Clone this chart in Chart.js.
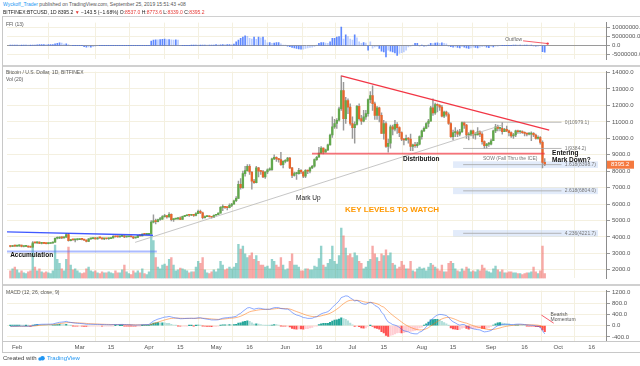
<!DOCTYPE html>
<html><head><meta charset="utf-8">
<script src="https://cdn.jsdelivr.net/npm/chart.js@4.4.1/dist/chart.umd.min.js"></script>
<style>
html,body{margin:0;padding:0;background:#fff;}
body{position:relative;width:640px;height:366px;overflow:hidden;font-family:"Liberation Sans",Arial,sans-serif;}
canvas{position:absolute;left:0;}
.t{position:absolute;white-space:nowrap;z-index:5;}
.ln{position:absolute;z-index:4;}
.r{color:#e53935}
</style></head><body>
<div class="t" style="left:3px;top:1px;font-size:5px;line-height:6px;color:#555"><span style="color:#2196f3">Wyckoff_Trader</span> published on TradingView.com, September 25, 2019 15:51:43 +08</div>
<div class="t" style="left:3px;top:9px;font-size:5px;line-height:6px;color:#222">BITFINEX:BTCUSD, 1D 8395.2 <span class="r">▼</span> −143.5 (−1.68%) O:<span class="r">8537.0</span> H:<span class="r">8773.6</span> L:<span class="r">8339.0</span> C:<span class="r">8395.2</span></div>
<div class="t" style="left:6px;top:21px;font-size:5px;line-height:6px;color:#555">FFI (13)</div>
<div class="t" style="left:6px;top:69px;font-size:5px;line-height:6px;color:#555">Bitcoin / U.S. Dollar, 1D, BITFINEX</div>
<div class="t" style="left:6px;top:76px;font-size:5px;line-height:6px;color:#555">Vol (20)</div>
<div class="t" style="left:6px;top:289px;font-size:5px;line-height:6px;color:#555">MACD (12, 26, close, 9)</div>
<div class="t" style="left:3px;top:355px;font-size:6px;line-height:7px;color:#444">Created with <svg width="7" height="5" viewBox="0 0 14 10" style="vertical-align:-0.5px"><circle cx="4" cy="6" r="3.5" fill="#2196f3"/><circle cx="9" cy="4.5" r="4.5" fill="#2196f3"/></svg> <span style="color:#2196f3">TradingView</span></div>
<div class="ln" style="left:2px;top:16px;width:638px;height:1px;background:#d0d0d0"></div>
<div class="ln" style="left:2px;top:65px;width:638px;height:1.5px;background:#d0d0d0"></div>
<div class="ln" style="left:2px;top:284px;width:638px;height:1.5px;background:#d0d0d0"></div>
<div class="ln" style="left:2px;top:341px;width:638px;height:1px;background:#c8c8c8"></div>
<div class="ln" style="left:2px;top:352px;width:638px;height:1px;background:#c8c8c8"></div>
<div class="ln" style="left:2px;top:16px;width:1px;height:337px;background:#c8c8c8"></div>
<canvas id="ffi" width="640" height="48" style="top:17px"></canvas>
<canvas id="main" width="640" height="218" style="top:66px"></canvas>
<canvas id="macd" width="640" height="68" style="top:285px"></canvas>
<script>
// ---- data: daily BITFINEX BTCUSD, 2019-01-29 .. 2019-09-25 ----
const firstDay = -3; // day index relative to Feb 1, 2019
const opens=[3450,3420,3480,
3445,3460,3500,3420,3425,3440,3390,3380,3650,3640,3690,3610,3620,3610,3590,3600,3630,3680,3920,3930,3980,3940,3990,4150,3770,3840,3820,3830,
3840,3860,3850,3810,3730,3880,3900,3910,3880,3950,3940,3880,3900,3890,3900,3940,4040,4010,4000,4040,4060,4000,4010,4020,4010,3940,3970,4090,4070,4170,4160,
4160,4180,4900,4980,4930,5060,5080,5240,5300,5220,5380,5050,5090,5100,5170,5070,5250,5290,5330,5320,5350,5310,5420,5560,5470,5180,5240,5250,5230,5200,
5320,5360,5450,5800,5850,5800,5780,5920,6000,6200,6350,7200,7000,7850,8030,8300,7950,7400,7300,8200,8000,7980,7650,7950,8080,8100,8750,8850,8750,8700,8400,
8600,8620,8800,8200,7750,7850,7850,8050,7950,7700,8050,8000,8200,8300,8700,8850,9100,9400,9150,9300,9600,10200,10700,10900,11100,11800,12900,11200,12300,11900,
10900,10650,10850,11950,11200,11050,11300,11500,12350,12600,12100,11400,11850,11400,10300,10900,9500,9700,10700,10550,10850,10650,10350,9950,9900,10000,9950,9500,9600,9550,9650,
10100,10450,10600,10900,11050,11850,11550,12050,12000,11900,11350,11600,11450,10900,10100,10350,10400,10250,10400,10950,10800,10200,10200,10450,10200,10200,10400,10250,9800,9550,9650,
9650,9850,10450,10700,10600,10600,10400,10550,10450,10350,10150,10200,10450,10400,10400,10350,10300,10250,10250,10300,10200,10000,10050,9750,8537];
const highs=[3470,3490,3500,
3480,3520,3510,3440,3460,3455,3400,3720,3670,3700,3700,3640,3650,3620,3640,3660,3700,3950,4000,4000,4010,4000,4200,4220,3860,3850,3850,3900,
3880,3870,3860,3830,3900,3920,3940,3960,3960,3960,3950,3920,3920,3940,3960,4080,4050,4060,4050,4080,4080,4030,4040,4030,4020,3980,4100,4100,4190,4200,4180,
4200,5000,5350,5080,5080,5200,5300,5380,5300,5480,5400,5100,5130,5190,5220,5270,5320,5350,5380,5380,5360,5480,5640,5640,5520,5280,5280,5280,5250,5350,
5380,5460,5850,5950,5860,5810,6020,6050,6250,6450,7400,7550,8000,8300,8400,8400,7980,7500,8300,8230,8050,8050,7980,8150,8200,8800,9000,8880,8780,9150,8650,
8700,8850,8850,8230,7950,7930,8180,8100,7980,8100,8070,8250,8350,8750,8900,9450,9500,9420,9350,9650,10250,11300,11150,11200,11900,13800,13400,12500,12400,12100,
11300,11000,12000,12100,11400,11700,11700,12400,12850,13200,12200,11950,11900,11550,11100,11000,9950,10800,10800,11100,10950,10700,10400,10000,10200,10050,10250,9650,9750,9750,10150,
10500,10700,10950,11150,11950,12400,12150,12100,12050,12000,11650,11650,11550,10950,10500,10650,10500,10550,11000,10980,10850,10350,10500,10500,10350,10650,10450,10350,9850,9700,9750,
9950,10500,10850,10800,10650,10950,10600,10750,10500,10400,10300,10500,10500,10450,10450,10400,10320,10350,10400,10350,10250,10150,10100,9850,8773.6];
const lows=[3400,3410,3430,
3420,3430,3400,3400,3410,3370,3370,3370,3620,3610,3590,3570,3590,3570,3580,3600,3610,3670,3880,3900,3890,3930,3970,3740,3760,3800,3700,3800,
3830,3820,3790,3700,3720,3850,3880,3860,3870,3910,3860,3840,3870,3850,3890,3930,3990,3980,3990,4010,3960,3990,4000,3990,3900,3920,3960,4050,4060,4140,4140,
4140,4170,4850,4800,4920,5000,5070,5200,5150,5200,4980,4950,5060,5070,5050,5060,5230,5280,5250,5300,5250,5280,5410,5420,5100,5150,5230,5200,5150,5180,
5310,5350,5440,5600,5730,5650,5770,5840,5990,6150,6340,6900,6950,7700,8000,7800,6900,7250,7280,7650,7800,7600,7560,7850,8050,8050,8700,8600,8550,8350,8200,
8500,8600,8150,7600,7700,7500,7820,7850,7600,7600,7850,7900,8150,8250,8650,8850,9100,9050,9150,9250,9580,10050,10600,10600,11050,11700,10500,10900,11500,10800,
10000,9700,10800,11100,10850,11000,11150,11350,12150,11700,11150,11150,11000,10300,9950,9450,9150,9400,10200,10450,10300,10100,9850,9600,9850,9700,9250,9250,9450,9450,9600,
9950,10400,10600,10700,11050,11400,11450,11600,11700,11300,11250,11350,10850,10050,9900,10100,10100,10150,10350,10600,10000,9900,10150,10000,9950,10200,10100,9650,9384,9400,9500,
9600,9850,10350,10450,10450,10250,10400,10400,10150,10050,10000,10100,10300,10300,10300,10150,10150,10200,9850,10100,9950,9950,9650,8200,8339];
const closes=[3420,3480,3445,
3460,3500,3420,3425,3440,3390,3380,3650,3640,3690,3610,3620,3610,3590,3600,3630,3680,3920,3930,3980,3940,3990,4150,3770,3840,3820,3830,3840,
3860,3850,3810,3730,3880,3900,3910,3880,3950,3940,3880,3900,3890,3900,3940,4040,4010,4000,4040,4060,4000,4010,4020,4010,3940,3970,4090,4070,4170,4160,4160,
4180,4900,4980,4930,5060,5080,5240,5300,5220,5380,5050,5090,5100,5170,5070,5250,5290,5330,5320,5350,5310,5420,5560,5470,5180,5240,5250,5230,5200,5320,
5360,5450,5800,5850,5800,5780,5920,6000,6200,6350,7200,7000,7850,8030,8300,7950,7400,7300,8200,8000,7980,7650,7950,8080,8100,8750,8850,8750,8700,8400,8600,
8620,8800,8200,7750,7850,7850,8050,7950,7700,8050,8000,8200,8300,8700,8850,9100,9400,9150,9300,9600,10200,10700,10900,11100,11800,12900,11200,12300,11900,10900,
10650,10850,11950,11200,11050,11300,11500,12350,12600,12100,11400,11850,11400,10300,10900,9500,9700,10700,10550,10850,10650,10350,9950,9900,10000,9950,9500,9600,9550,9650,10100,
10450,10600,10900,11050,11850,11550,12050,12000,11900,11350,11600,11450,10900,10100,10350,10400,10250,10400,10950,10800,10200,10200,10450,10200,10200,10400,10250,9800,9550,9650,9650,
9850,10450,10700,10600,10600,10400,10550,10450,10350,10150,10200,10450,10400,10400,10350,10300,10250,10250,10300,10200,10000,10050,9750,8540,8395.2];
const volumes=[8,10,12,
9,6,8,6,5,7,8,36,12,8,10,7,6,7,6,5,8,35,20,16,10,8,20,33,14,9,10,8,
6,5,6,10,12,8,7,8,6,5,7,6,6,7,6,5,8,6,6,9,14,7,5,4,8,6,8,6,10,5,4,
7,45,40,22,12,10,14,15,13,20,22,14,8,9,11,10,9,8,6,7,7,12,18,16,22,9,6,5,7,9,
7,10,18,14,9,10,12,10,12,16,36,31,34,26,22,24,27,20,24,18,14,14,12,13,10,20,18,14,12,22,14,
9,10,18,26,14,14,12,8,8,10,10,9,9,13,12,21,34,14,12,16,20,34,18,15,24,53,45,32,24,26,
22,27,24,18,16,10,12,18,20,34,26,22,18,26,24,30,24,27,16,14,10,12,18,14,10,10,18,8,7,10,12,
10,11,8,12,16,14,12,10,8,14,7,7,16,18,16,10,8,7,10,8,12,10,7,8,7,9,8,14,11,8,7,
6,10,13,9,7,9,6,6,7,7,6,6,5,5,4,5,6,6,7,12,7,5,8,34,5]; // thousand BTC
const ffiValues=[0.2,0.2,0.2,
0.2,0.1,0.1,0.2,0.2,0.1,0.1,0.3,0.3,0.4,0.5,0.5,0.6,0.5,0.5,0.6,0.6,0.9,1.3,1.5,1.4,0.8,0.9,0.6,0,0,0,0,
0,0,-0.6,-0.8,-0.7,-0.9,-0.6,-0.1,0,0,0,0,0,0,0,0,0,0,0,0,0,0,0,0,0,0,0,0,0,0,0,
0,2.5,3.0,3.2,3.1,3.3,3.4,3.5,3.3,3.3,3.1,3.0,3.2,3.0,0,0,0,0,0,0.1,0.1,0.2,0.1,0.1,0.2,0.3,0.2,0.2,0.3,0.3,
0.5,0.4,0.4,0.6,0.5,0.5,0.6,0.5,0.8,2.0,3.0,4.0,4.6,5.3,5.0,4.0,3.5,4.6,3.4,4.6,4.2,4.6,3.0,1.5,1.6,1.2,1.4,1.6,1.6,1.0,0.3,
0.2,-0.3,-0.6,-1.0,-1.3,-1.5,-1.8,-2.0,-1.9,-1.6,-1.3,-1.0,-0.8,-0.5,0.3,1.2,1.6,1.7,1.4,1.2,2.0,3.9,3.9,4.6,4.9,10.0,3.5,5.8,4.9,3.5,
3.0,5.8,4.2,2.0,1.3,1.7,1.4,-2.5,2.0,-1.4,-0.7,-0.5,-1.5,-3.0,-3.5,-6.2,-2.5,-3.0,-3.5,-4.0,-5.3,-4.2,-3.8,-3.5,-2.5,-0.7,-0.3,0.2,1.2,1.2,-0.3,
0.3,-0.3,-0.2,0.2,1.2,1.1,1.4,1.5,1.3,1.5,1.2,0.9,-0.4,-0.6,-0.9,-0.7,-1.0,-1.2,-0.6,-0.8,-1.3,-1.5,-1.2,-0.8,-1.0,-1.3,-0.9,-0.6,-0.4,-0.9,-1.1,
-0.5,-0.7,-0.3,-0.1,0,0,0,0,0,0,0.3,0.3,0.2,0.3,0.2,0.3,0.3,0.2,0.2,-0.1,-0.2,-0.1,0,-3.3,-3.6]; // millions
const macdLine=[-25,-22,-20,
-18,-15,-17,-18,-17,-19,-22,2,22,38,44,50,52,53,54,56,60,84,104,120,128,136,155,130,117,103,92,85,
80,74,66,52,50,50,49,46,46,44,40,37,35,33,33,40,43,42,43,45,40,37,34,31,24,20,24,26,34,38,40,
44,108,165,200,235,255,283,305,312,330,310,290,275,265,248,250,255,260,262,264,260,266,280,282,260,245,232,220,205,205,
205,210,240,265,278,285,296,300,315,335,400,440,510,570,630,645,615,585,610,620,615,595,585,585,585,615,640,645,640,610,600,
590,590,545,470,420,380,360,330,290,280,260,260,265,300,320,370,420,450,470,500,560,650,730,800,880,1000,1030,1060,1050,990,
940,880,900,860,800,770,760,800,830,800,720,680,620,480,400,240,130,90,40,20,-10,-60,-130,-180,-200,-220,-260,-280,-290,-290,-230,
-200,-130,-40,60,200,260,330,380,400,395,380,360,300,200,140,100,50,20,40,40,-10,-60,-80,-110,-130,-140,-150,-190,-220,-210,-195,
-170,-110,-50,0,30,40,50,50,50,40,40,50,55,55,50,40,30,20,15,10,-10,-20,-50,-180,-290];
const signalLine=[-30,-29,-27,
-26,-24,-23,-22,-21,-21,-21,-16,-8,2,10,18,25,30,35,39,43,51,62,74,85,95,107,112,113,111,107,103,
98,93,88,81,75,70,66,62,59,56,53,50,47,45,42,42,42,42,42,43,42,41,40,38,35,32,30,29,30,31,33,
35,50,73,98,126,152,178,203,225,246,259,265,268,268,265,263,261,261,261,262,262,262,265,268,266,262,256,249,241,234,
228,224,227,234,243,251,260,268,277,289,311,337,372,411,455,493,517,531,547,561,572,577,579,581,582,589,599,608,614,615,612,
608,604,592,567,533,502,474,445,414,387,362,342,327,321,322,332,350,370,390,412,442,484,533,587,646,717,780,836,879,901,
909,903,902,894,875,854,835,828,828,822,802,778,746,693,660,590,510,440,370,310,250,190,130,70,20,-20,-60,-90,-120,-140,-150,
-150,-140,-110,-70,-10,40,100,150,200,240,270,290,295,280,255,225,190,155,130,110,90,60,30,0,-25,-50,-70,-90,-110,-125,-135,
-140,-135,-120,-100,-80,-55,-35,-20,-5,5,15,25,30,35,38,40,38,35,32,30,25,18,5,-30,-80];
const macdHist=[5,7,7,
8,9,6,4,4,2,-1,18,30,36,34,32,27,23,19,17,17,33,42,46,43,41,48,18,4,-8,-15,-18,
-18,-19,-22,-29,-25,-20,-17,-16,-13,-12,-13,-13,-12,-12,-9,-2,1,0,1,2,-2,-4,-6,-7,-11,-12,-6,-3,4,7,7,
9,58,92,102,109,103,105,102,87,84,51,25,7,-3,-17,-13,-6,-1,1,2,-2,4,15,14,-6,-17,-24,-29,-36,-29,
-23,-14,13,31,35,34,36,32,38,46,89,103,138,159,175,152,98,54,63,59,43,18,6,4,3,26,41,37,26,-5,-12,
-18,-14,-47,-97,-113,-122,-114,-115,-124,-107,-102,-82,-62,-21,-2,38,70,80,80,88,118,166,197,213,234,283,250,224,171,89,
31,-23,-2,-34,-75,-84,-75,-28,2,-22,-82,-98,-126,-213,-260,-350,-380,-350,-330,-290,-260,-250,-260,-250,-220,-200,-200,-190,-170,-150,-80,
-50,10,70,130,210,220,230,230,200,155,110,70,5,-80,-115,-125,-140,-135,-90,-70,-100,-120,-110,-110,-105,-90,-80,-100,-110,-85,-60,
-30,25,70,100,110,95,85,70,55,35,25,25,25,20,12,0,-8,-15,-17,-20,-35,-38,-55,-150,-210];
const tickDays=[0,28,42,59,73,89,104,120,135,150,164,181,195,212,227,242,257];
const tickLabels=['Feb','Mar','15','Apr','15','May','16','Jun','16','Jul','15','Aug','15','Sep','16','Oct','16'];
const priceTicks=[2000,3000,4000,5000,6000,7000,8000,9000,10000,11000,12000,13000,14000];
const ffiTicks=[10,5,0,-5];
const macdTicks=[1200,800,400,0,-400];
const fibLevels=[['0',10979.1],['1',9384.2],['1.618',8398.7],['2.618',6804.0],['4.236',4221.7]];
const lastPrice=8395.2;

// ---- drawing ----
const FONT='"Liberation Sans", Arial, sans-serif';
const GRID='#f4f0e0';
const TXT='#555';
const days=opens.map((_,i)=>firstDay+i);
const up=opens.map((o,i)=>closes[i]>=o);
const X0=-4.5, X1=263.4;

function xAxis(show){
  return {type:'linear',min:X0,max:X1,offset:false,
    afterBuildTicks:s=>{s.ticks=tickDays.map(v=>({value:v}));},
    ticks:{display:show,autoSkip:false,maxRotation:0,padding:3,font:{family:FONT,size:6},color:TXT,callback:(v,i)=>tickLabels[i]},
    grid:{color:GRID,drawTicks:false},border:{display:false},
    afterFit:s=>{s.height=show?12:0;}};
}
function yAxis(min,max,ticks,fmt,zero){
  return {position:'right',min,max,
    afterBuildTicks:s=>{s.ticks=ticks.map(v=>({value:v}));},
    afterFit:s=>{s.width=34;},
    ticks:{autoSkip:false,font:{family:FONT,size:6},color:TXT,padding:2,callback:fmt},
    grid:{color:c=>(zero&&c.tick&&c.tick.value===0)?'#9a9a9a':GRID,tickLength:4,tickColor:'#999',drawTicks:true},
    border:{display:true,color:'#8c8c8c'}};
}
const common={responsive:false,animation:false,devicePixelRatio:1,events:[],
  layout:{padding:{left:7,right:0,top:0,bottom:0},autoPadding:false},
  plugins:{legend:{display:false},tooltip:{enabled:false}}};

function line(ctx,c,a,b,color,w){
  ctx.beginPath();ctx.strokeStyle=color;ctx.lineWidth=w;
  ctx.moveTo(c.scales.x.getPixelForValue(a[0]),c.scales.y.getPixelForValue(a[1]));
  ctx.lineTo(c.scales.x.getPixelForValue(b[0]),c.scales.y.getPixelForValue(b[1]));ctx.stroke();
}
function text(ctx,c,t,at,font,color,align){
  ctx.font=font+' '+FONT;ctx.fillStyle=color;ctx.textBaseline='middle';ctx.textAlign=align||'left';
  ctx.fillText(t,c.scales.x.getPixelForValue(at[0]),c.scales.y.getPixelForValue(at[1]));
}

// annotations (data coordinates: [day, value])
const mainLines=[
  [[145,13800],[238,10500],'#f23645',1.2],
  [[52.8,3671],[217.4,10826],'#b8b8b8',0.8],
  [[131.9,9066],[236,9066],'rgba(242,54,69,0.7)',1.6],
  [[-4.5,4306],[60.8,4104],'rgba(30,60,255,0.85)',1.4],
  [[-4.5,3111],[62.5,3111],'rgba(90,120,255,0.5)',2]
];
const mainTexts=[
  ['Accumulation',[-3.1,2863],'bold 6.5px','#111'],
  ['Mark Up',[124.8,6383],'6.5px','#222'],
  ['KEY LEVELS TO WATCH',[146.7,5633],'bold 8px','#ff9800'],
  ['Distribution',[172.6,8749],'bold 6.5px','#111'],
  ['SOW (Fall Thru the ICE)',[208.4,8749],'5px','#777'],
  ['Entering',[239.3,9095],'bold 6.5px','#111'],
  ['Mark Down?',[239.3,8662],'bold 6.5px','#111']
];
const mainAnn={id:'mainAnn',
  beforeDatasetsDraw(c){const ctx=c.ctx,x=c.scales.x,y=c.scales.y;ctx.save();ctx.fillStyle='rgba(190,210,245,0.45)';
    fibLevels.slice(2).forEach(f=>{const x1=x.getPixelForValue(195),x2=x.getPixelForValue(259.8);
      const y1=y.getPixelForValue(f[1]+200),y2=y.getPixelForValue(f[1]-200);ctx.fillRect(x1,y1,x2-x1,y2-y1);});ctx.restore();},
  afterDatasetsDraw(c){const ctx=c.ctx;ctx.save();
    fibLevels.forEach(f=>{line(ctx,c,[199.5,f[1]],[243.5,f[1]],'#a6a6a6',0.8);text(ctx,c,f[0]+'('+f[1].toFixed(1)+')',[245,f[1]],'5px','#777');});
    mainLines.forEach(l=>line(ctx,c,l[0],l[1],l[2],l[3]));
    mainTexts.forEach(t=>text(ctx,c,t[0],t[1],t[2],t[3]));ctx.restore();},
  afterDraw(c){const ctx=c.ctx,yp=c.scales.y.getPixelForValue(lastPrice),l=c.chartArea.right+1;ctx.save();
    ctx.fillStyle='#f5793f';ctx.fillRect(l,yp-4,27,8);ctx.fillStyle='#fff';ctx.font='6px '+FONT;ctx.textBaseline='middle';ctx.textAlign='left';
    ctx.fillText(lastPrice.toFixed(1),l+4,yp);ctx.restore();}
};
const ffiAnn={id:'ffiAnn',afterDatasetsDraw(c){const ctx=c.ctx;ctx.save();
  text(ctx,c,'Outflow',[225.9,3.33],'5px','#666','right');
  line(ctx,c,[226.3,2.6],[237.3,1.1],'#f23645',0.8);
  ctx.fillStyle='#f23645';ctx.beginPath();ctx.arc(c.scales.x.getPixelForValue(237.3),c.scales.y.getPixelForValue(1.1),1.2,0,Math.PI*2);ctx.fill();ctx.restore();}};
const macdAnn={id:'macdAnn',afterDatasetsDraw(c){const ctx=c.ctx;ctx.save();
  line(ctx,c,[234.5,380],[240,90],'#f23645',0.8);
  text(ctx,c,'Bearish',[238.6,400],'5px','#555');
  text(ctx,c,'Momentum',[238.6,210],'5px','#555');ctx.restore();}};

new Chart(document.getElementById('ffi'),{type:'bar',
  data:{datasets:[{data:days.map((d,i)=>({x:d,y:ffiValues[i]})),
    backgroundColor:ffiValues.map((v,i)=>Math.abs(v)>=Math.abs(i?ffiValues[i-1]:0)?'rgba(41,98,255,0.75)':'rgba(41,98,255,0.32)'),
    barThickness:1,grouped:false}]},
  options:{...common,scales:{x:xAxis(false),y:yAxis(-7.5,12.5,ffiTicks,v=>(v*1e6).toFixed(1),true)}},
  plugins:[ffiAnn]});

new Chart(document.getElementById('main'),{type:'bar',
  data:{datasets:[
    {data:days.map((d,i)=>({x:d,y:[opens[i],closes[i]]})),backgroundColor:up.map(u=>u?'#62a84c':'#e8662d'),barThickness:1.7,minBarLength:1,grouped:false,order:1,yAxisID:'y'},
    {data:days.map((d,i)=>({x:d,y:[lows[i],highs[i]]})),backgroundColor:'#9a9a9a',barThickness:0.8,grouped:false,order:2,yAxisID:'y'},
    {data:days.map((d,i)=>({x:d,y:volumes[i]})),backgroundColor:up.map(u=>u?'rgba(38,166,154,0.5)':'rgba(239,83,80,0.5)'),barThickness:1.7,grouped:false,order:3,yAxisID:'yv'}
  ]},
  options:{...common,scales:{x:xAxis(false),y:yAxis(1479,14058,priceTicks,v=>v.toFixed(1),false),yv:{display:false,min:0,max:218}}},
  plugins:[mainAnn]});

new Chart(document.getElementById('macd'),{type:'bar',
  data:{datasets:[
    {type:'line',data:days.map((d,i)=>({x:d,y:macdLine[i]})),borderColor:'rgba(41,98,255,0.55)',borderWidth:1,pointRadius:0,order:1},
    {type:'line',data:days.map((d,i)=>({x:d,y:signalLine[i]})),borderColor:'rgba(255,109,0,0.5)',borderWidth:1,pointRadius:0,order:2},
    {data:days.map((d,i)=>({x:d,y:macdHist[i]})),
     backgroundColor:macdHist.map((h,i)=>{const p=i?macdHist[i-1]:0;return h>=0?(h>=p?'#26a69a':'#b2dfdb'):(h<p?'#ff5252':'#ffcdd2');}),
     barThickness:1.5,grouped:false,order:3}
  ]},
  options:{...common,scales:{x:xAxis(true),y:yAxis(-544,1248,macdTicks,v=>v.toFixed(1),false)}},
  plugins:[macdAnn]});
</script>
</body></html>
